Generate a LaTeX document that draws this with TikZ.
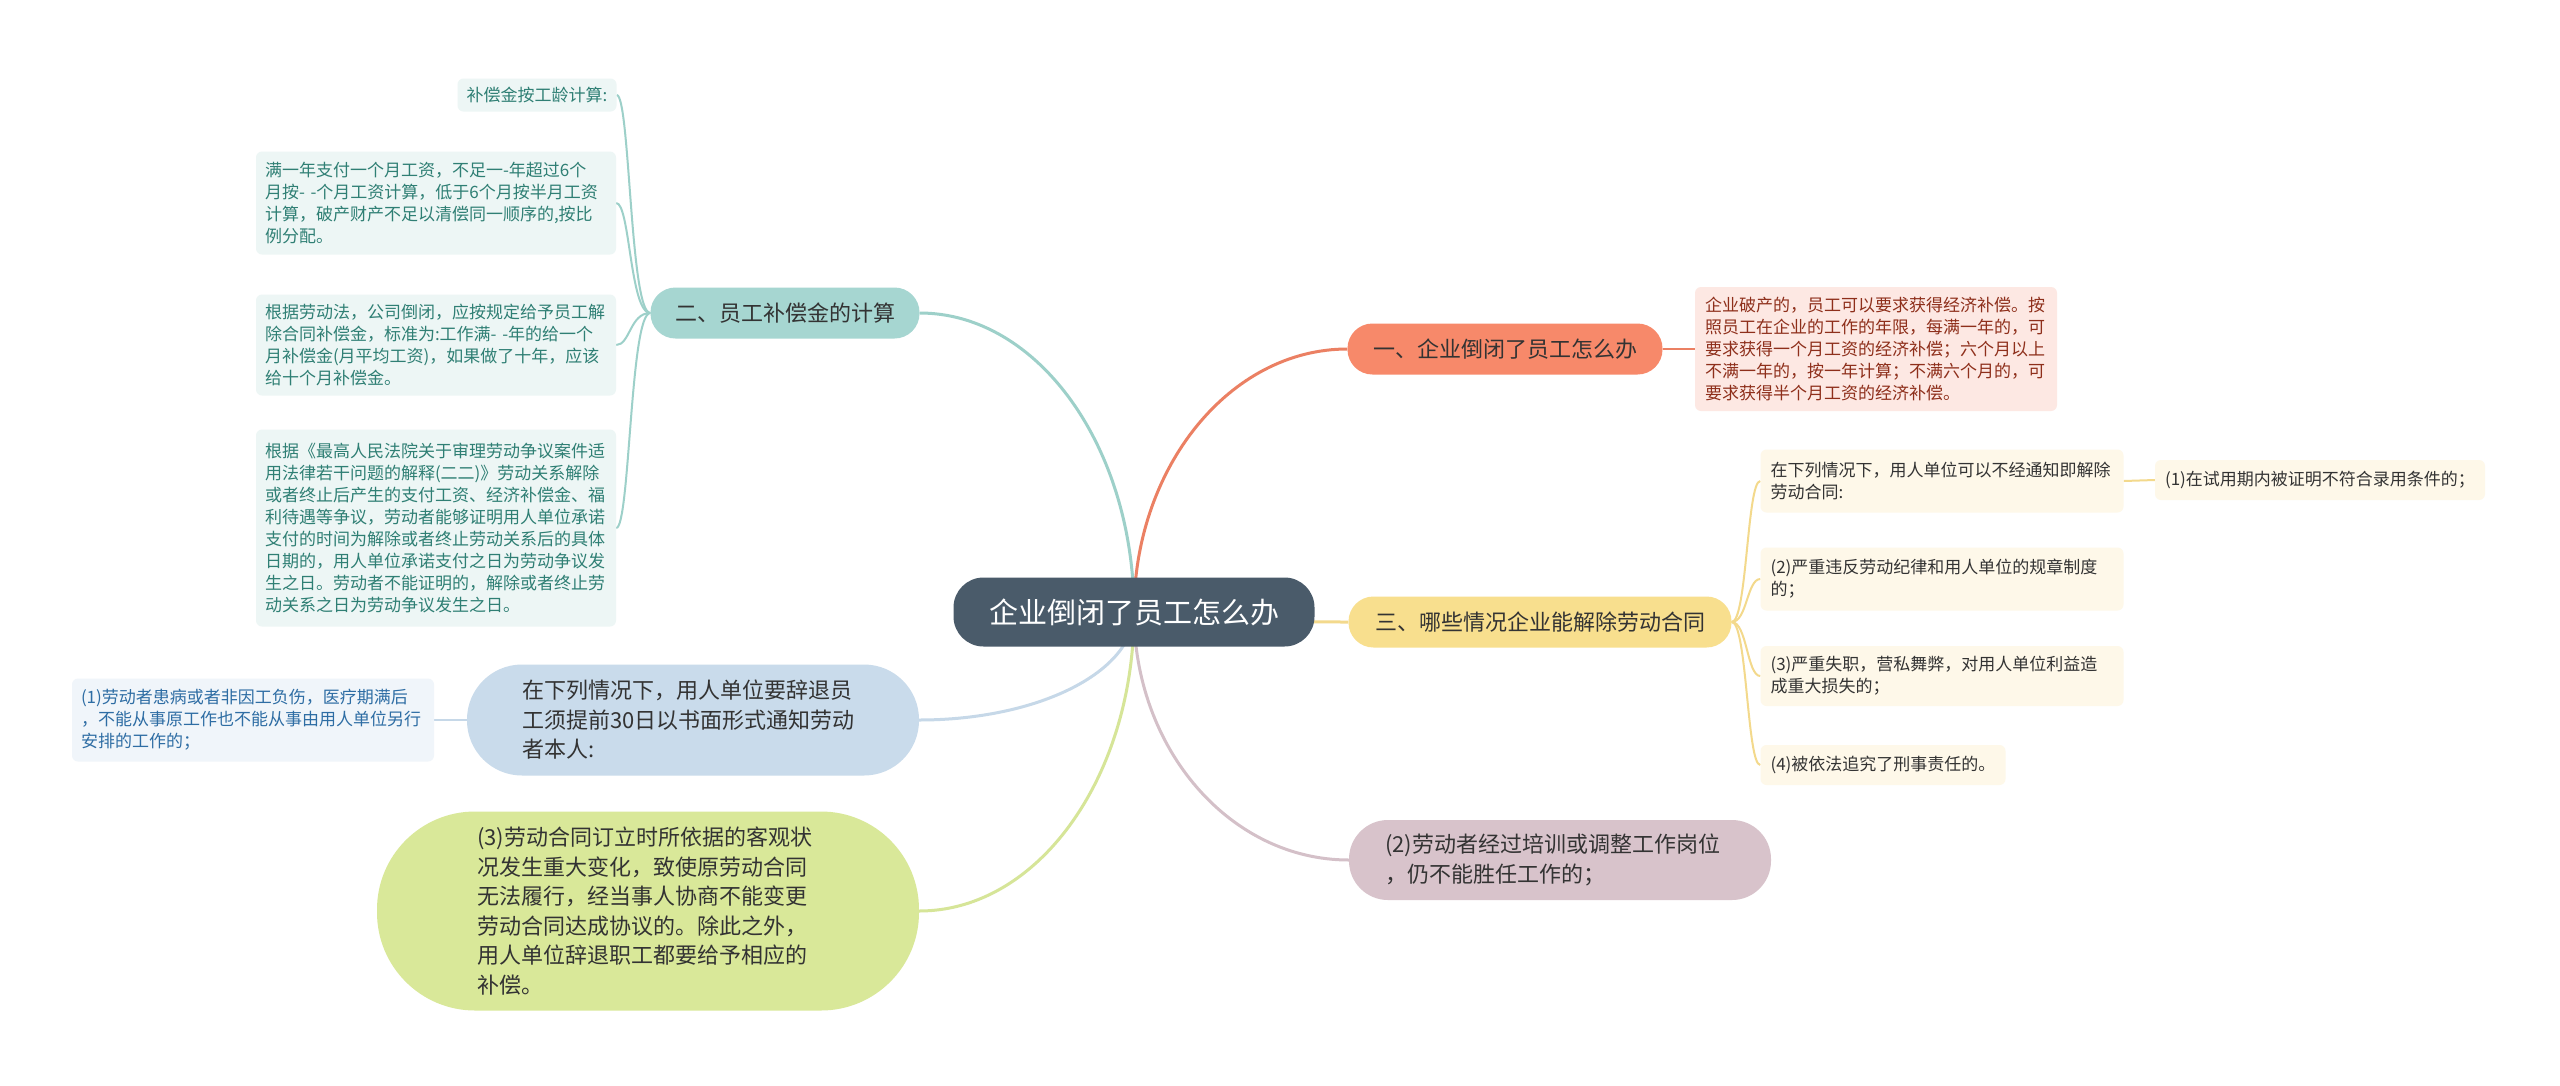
\documentclass[tikz,border=0pt]{standalone}
\usepackage{fontspec}
\setmainfont{Noto Sans CJK SC}
\usetikzlibrary{backgrounds}
\definecolor{ctrfill}{HTML}{4A5B6A}
\definecolor{corfill}{HTML}{F7896A}
\definecolor{corline}{HTML}{EB8063}
\definecolor{redbox}{HTML}{FDE8E3}
\definecolor{redtxt}{HTML}{8E2F1B}
\definecolor{tealfill}{HTML}{A6D6D1}
\definecolor{tealline}{HTML}{9DD0C9}
\definecolor{tealbox}{HTML}{EDF6F5}
\definecolor{tealtxt}{HTML}{2F7F74}
\definecolor{yelfill}{HTML}{F8DF8E}
\definecolor{yelline}{HTML}{F3D98C}
\definecolor{yelbox}{HTML}{FEF8E9}
\definecolor{purfill}{HTML}{D8C3CB}
\definecolor{purline}{HTML}{D4C0C8}
\definecolor{blufill}{HTML}{C9DBEB}
\definecolor{bluline}{HTML}{C6D8E8}
\definecolor{blubox}{HTML}{F0F5FA}
\definecolor{blutxt}{HTML}{2E6DA4}
\definecolor{grnfill}{HTML}{D9E899}
\definecolor{grnline}{HTML}{D6E598}
\definecolor{darktxt}{HTML}{333333}
\begin{document}
\begin{tikzpicture}[x=1pt,y=-1pt,
  detail/.style={rectangle, rounded corners=6pt, inner sep=0pt, align=left,
    font=\fontsize{17}{22}\selectfont},
  lvl/.style={rectangle, inner sep=0pt, minimum height=51pt, rounded corners=25pt,
    text=darktxt, font=\fontsize{22}{28}\selectfont},
  big/.style={rectangle, inner sep=0pt, align=left, text=darktxt,
    font=\fontsize{22}{29.5}\selectfont},
  mainline/.style={line width=3pt},
  subline/.style={line width=2pt}]

% central topic
\node[rectangle, rounded corners=30pt, fill=ctrfill, text=white, inner sep=0pt,
  minimum width=361pt, minimum height=69pt, font=\fontsize{29}{34}\selectfont]
  (ctr) at (1134,612) {企业倒闭了员工怎么办};

% branch one
\node[lvl, fill=corfill, minimum width=315pt] (n1) at (1505,349) {一、企业倒闭了员工怎么办};
\node[detail, fill=redbox, text=redtxt, minimum width=362pt, minimum height=124pt,
  text width=342pt] (r1) at (1876,349)
  {企业破产的，员工可以要求获得经济补偿。按\\照员工在企业的工作的年限，每满一年的，可\\要求获得一个月工资的经济补偿；六个月以上\\不满一年的，按一年计算；不满六个月的，可\\要求获得半个月工资的经济补偿。};

% branch two
\node[lvl, fill=tealfill, minimum width=269pt] (n2) at (785,313) {二、员工补偿金的计算};
\node[detail, fill=tealbox, text=tealtxt, minimum width=159pt, minimum height=33pt,
  text width=141pt] (t1) at (537,95) {补偿金按工龄计算:};
\node[detail, fill=tealbox, text=tealtxt, minimum width=360pt, minimum height=103pt,
  text width=342pt] (t2) at (436,203)
  {满一年支付一个月工资，不足一-年超过6个\\月按- -个月工资计算，低于6个月按半月工资\\计算，破产财产不足以清偿同一顺序的,按比\\例分配。};
\node[detail, fill=tealbox, text=tealtxt, minimum width=360pt, minimum height=101pt,
  text width=342pt] (t3) at (436,345)
  {根据劳动法，公司倒闭，应按规定给予员工解\\除合同补偿金，标准为:工作满- -年的给一个\\月补偿金(月平均工资)，如果做了十年，应该\\给十个月补偿金。};
\node[detail, fill=tealbox, text=tealtxt, minimum width=360pt, minimum height=197pt,
  text width=342pt] (t4) at (436,528)
  {根据《最高人民法院关于审理劳动争议案件适\\用法律若干问题的解释(二二)》劳动关系解除\\或者终止后产生的支付工资、经济补偿金、福\\利待遇等争议，劳动者能够证明用人单位承诺\\支付的时间为解除或者终止劳动关系后的具体\\日期的，用人单位承诺支付之日为劳动争议发\\生之日。劳动者不能证明的，解除或者终止劳\\动关系之日为劳动争议发生之日。};

% branch three
\node[lvl, fill=yelfill, minimum width=383pt] (n3) at (1540,622) {三、哪些情况企业能解除劳动合同};
\node[detail, fill=yelbox, text=darktxt, minimum width=363pt, minimum height=63pt,
  text width=343pt] (y1) at (1942,481)
  {在下列情况下，用人单位可以不经通知即解除\\劳动合同:};
\node[detail, fill=yelbox, text=darktxt, minimum width=330pt, minimum height=40pt,
  text width=310pt] (y1a) at (2320,480) {(1)在试用期内被证明不符合录用条件的；};
\node[detail, fill=yelbox, text=darktxt, minimum width=363pt, minimum height=63pt,
  text width=343pt] (y2) at (1942,579)
  {(2)严重违反劳动纪律和用人单位的规章制度\\的；};
\node[detail, fill=yelbox, text=darktxt, minimum width=363pt, minimum height=60pt,
  text width=343pt] (y3) at (1942,676)
  {(3)严重失职，营私舞弊，对用人单位利益造\\成重大损失的；};
\node[detail, fill=yelbox, text=darktxt, minimum width=245pt, minimum height=40pt,
  text width=225pt] (y4) at (1883,765) {(4)被依法追究了刑事责任的。};

% branch (2) purple
\node[big, fill=purfill, rounded corners=39pt, minimum width=422pt, minimum height=80pt,
  text width=350pt] (p1) at (1560,860)
  {(2)劳动者经过培训或调整工作岗位\\，仍不能胜任工作的；};

% branch blue
\node[big, fill=blufill, rounded corners=55pt, minimum width=452pt, minimum height=111pt,
  text width=342pt] (b1) at (693,720)
  {在下列情况下，用人单位要辞退员\\工须提前30日以书面形式通知劳动\\者本人:};
\node[detail, fill=blubox, text=blutxt, minimum width=362pt, minimum height=83pt,
  text width=344pt] (b1a) at (253,720)
  {(1)劳动者患病或者非因工负伤，医疗期满后\\，不能从事原工作也不能从事由用人单位另行\\安排的工作的；};

% branch green
\node[big, fill=grnfill, rounded corners=98pt, minimum width=542pt, minimum height=199pt,
  text width=342pt] (g1) at (648,911)
  {(3)劳动合同订立时所依据的客观状\\况发生重大变化，致使原劳动合同\\无法履行，经当事人协商不能变更\\劳动合同达成协议的。除此之外，\\用人单位辞退职工都要给予相应的\\补偿。};

\begin{scope}[on background layer]
\fill[white] (0,0) rectangle (2560,1085);
% main connectors
\draw[mainline, tealline] (ctr.center) .. controls (1134,447) and (1038,313) .. (n2.east);
\draw[mainline, corline] (ctr.center) .. controls (1134,467) and (1230,349) .. (n1.west);
\draw[mainline, yelline] (ctr.center) .. controls (1200,618) and (1260,622) .. (n3.west);
\draw[mainline, purline] (ctr.center) .. controls (1134,749) and (1230,860) .. (p1.west);
\draw[mainline, bluline] (ctr.center) .. controls (1134,672) and (1038,720) .. (b1.east);
\draw[mainline, grnline] (ctr.center) .. controls (1134,777) and (1038,911) .. (g1.east);
% sub connectors
\draw[subline, corline] (n1.east) -- (r1.west);
\draw[subline, tealline] (n2.west) .. controls (630,313) and (630,95) .. (t1.east);
\draw[subline, tealline] (n2.west) .. controls (630,313) and (630,203) .. (t2.east);
\draw[subline, tealline] (n2.west) .. controls (630,313) and (630,345) .. (t3.east);
\draw[subline, tealline] (n2.west) .. controls (630,313) and (630,528) .. (t4.east);
\draw[subline, yelline] (n3.east) .. controls (1747,622) and (1747,481) .. (y1.west);
\draw[subline, yelline] (n3.east) .. controls (1747,622) and (1747,579) .. (y2.west);
\draw[subline, yelline] (n3.east) .. controls (1747,622) and (1747,676) .. (y3.west);
\draw[subline, yelline] (n3.east) .. controls (1747,622) and (1747,765) .. (y4.west);
\draw[subline, yelline] (y1.east) -- (y1a.west);
\draw[subline, bluline] (b1.west) -- (b1a.east);
\end{scope}
\end{tikzpicture}
\end{document}
